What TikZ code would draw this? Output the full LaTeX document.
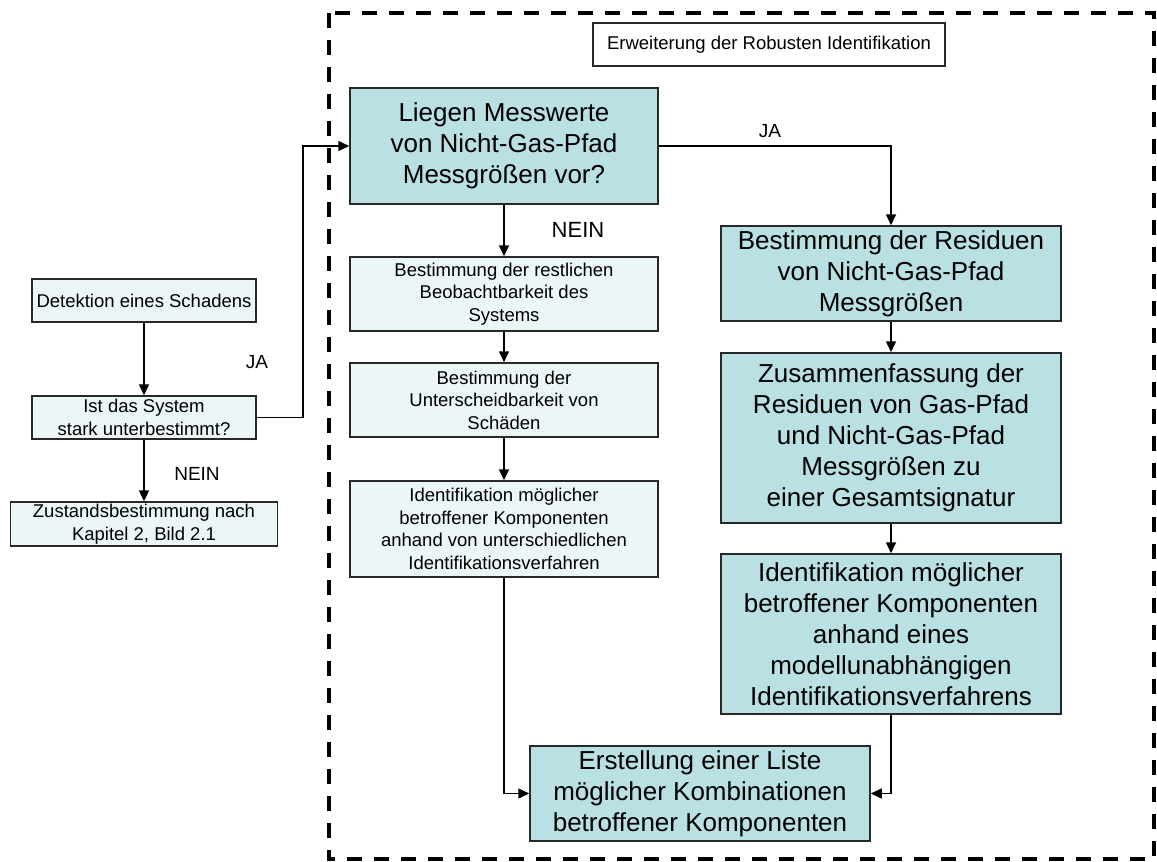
\documentclass[tikz,border=0pt]{standalone}
\usepackage{fontspec}
\setmainfont{Liberation Sans}
\usetikzlibrary{arrows.meta}
\definecolor{tealfill}{RGB}{185,224,227}
\definecolor{lightfill}{RGB}{237,246,247}
\definecolor{edgegray}{RGB}{40,40,40}
\begin{document}
\begin{tikzpicture}[x=1pt,y=-1pt,
  basebox/.style={draw=edgegray, line width=1.5pt, inner sep=0pt, align=center, text=black},
  bigbox/.style={basebox, fill=tealfill, font=\fontsize{26}{31}\selectfont},
  smallbox/.style={basebox, fill=lightfill, font=\fontsize{18.5}{22.5}\selectfont},
  titlebox/.style={basebox, fill=white, line width=1.2pt, font=\fontsize{18.5}{22.5}\selectfont},
  conn/.style={line width=1.5pt, -{Triangle[length=11pt,width=10pt]}},
  lbl/.style={inner sep=0pt, font=\fontsize{19}{23}\selectfont},
  frame/.style={line width=4pt, dash pattern=on 15pt off 12pt}
]
\useasboundingbox (0,0) rectangle (1157,862);

% dashed boundary of the extension block
\draw[frame] (329,13) rectangle (1154,859);

% heading of the block
\node[titlebox, minimum width=352pt, minimum height=43pt] (title) at (769,44.5)
  {Erweiterung der Robusten Identifikation};

% left column: detection and decision
\node[smallbox, minimum width=224pt, minimum height=43pt] (det) at (144,300.5)
  {Detektion eines Schadens};
\node[smallbox, minimum width=224pt, minimum height=43pt] (ist) at (144,417.5)
  {Ist das System\\stark unterbestimmt?};
\node[smallbox, minimum width=267pt, minimum height=44pt] (zus) at (144,524)
  {Zustandsbestimmung nach\\Kapitel 2, Bild 2.1};

% middle column
\node[bigbox, minimum width=308pt, minimum height=116pt] (liegen) at (504,146)
  {Liegen Messwerte\\von Nicht-Gas-Pfad\\Messgrößen vor?};
\node[smallbox, minimum width=308pt, minimum height=74pt] (b1) at (504,294)
  {Bestimmung der restlichen\\Beobachtbarkeit des\\Systems};
\node[smallbox, minimum width=308pt, minimum height=74pt] (b2) at (504,400)
  {Bestimmung der\\Unterscheidbarkeit von\\Schäden};
\node[smallbox, minimum width=308pt, minimum height=96pt] (b3) at (504,529)
  {Identifikation möglicher\\betroffener Komponenten\\anhand von unterschiedlichen\\Identifikationsverfahren};

% right column
\node[bigbox, minimum width=340pt, minimum height=95pt] (r1) at (891,273.5)
  {Bestimmung der Residuen\\von Nicht-Gas-Pfad\\Messgrößen};
\node[bigbox, minimum width=340pt, minimum height=170pt] (r2) at (891,438)
  {Zusammenfassung der\\Residuen von Gas-Pfad\\und Nicht-Gas-Pfad\\Messgrößen zu\\einer Gesamtsignatur};
\node[bigbox, minimum width=340pt, minimum height=160pt] (r3) at (891,634)
  {Identifikation möglicher\\betroffener Komponenten\\anhand eines\\modellunabhängigen\\Identifikationsverfahrens};

% result
\node[bigbox, minimum width=340pt, minimum height=95pt] (final) at (700,793.5)
  {Erstellung einer Liste\\möglicher Kombinationen\\betroffener Komponenten};

% branch labels
\node[lbl] (jaL) at (257,362) {JA};
\node[lbl] (neinL) at (197,474) {NEIN};
\node[lbl] (jaT) at (770,131.5) {JA};
\node[lbl, font=\fontsize{22}{26}\selectfont] (neinM) at (578,229.5) {NEIN};

% connectors
\draw[conn] (det) -- (ist);
\draw[conn] (ist) -- (zus);
\draw[conn] (ist.east) -- ++(46,0) |- (liegen.west);
\draw[conn] (liegen) -- (b1);
\draw[conn] (b1) -- (b2);
\draw[conn] (b2) -- (b3);
\draw[conn] (liegen.east) -| (r1.north);
\draw[conn] (r1) -- (r2);
\draw[conn] (r2) -- (r3);
\draw[conn] (b3.south) |- (final.west);
\draw[conn] (r3.south) |- (final.east);
\end{tikzpicture}
\end{document}
